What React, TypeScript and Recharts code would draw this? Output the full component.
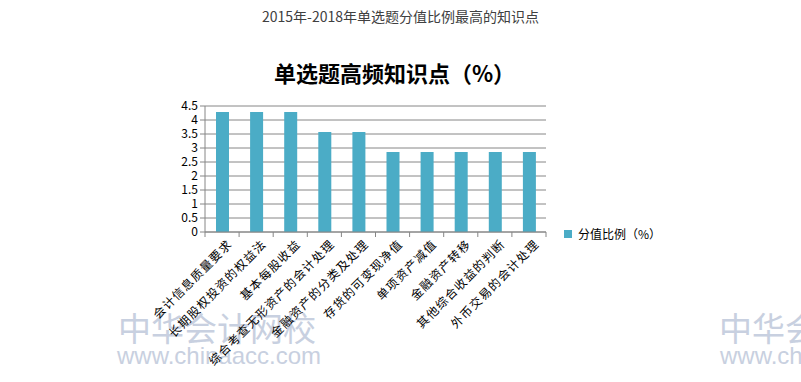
import { BarChart, Bar, XAxis, YAxis, CartesianGrid } from "recharts";

const categories = [
  "会计信息质量要求",
  "长期股权投资的权益法",
  "基本每股收益",
  "综合考查无形资产的会计处理",
  "金融资产的分类及处理",
  "存货的可变现净值",
  "单项资产减值",
  "金融资产转移",
  "其他综合收益的判断",
  "外币交易的会计处理",
];
const shares = [4.29, 4.29, 4.29, 3.57, 3.57, 2.86, 2.86, 2.86, 2.86, 2.86];
const yTicks = [0, 0.5, 1, 1.5, 2, 2.5, 3, 3.5, 4, 4.5];

const data = categories.map((name, i) => ({ name, value: shares[i] }));

const W = 801;
const H = 382;
const PLOT_LEFT = 205;
const PLOT_RIGHT = 546;
const STEP = (PLOT_RIGHT - PLOT_LEFT) / categories.length;
const FONT = '"Noto Sans CJK SC", "Noto Sans", sans-serif';
const GRID = "#868686";

const CategoryTick = ({ x, y, payload, index }: any) => (
  <g>
    <line x1={x - STEP / 2} y1={y - 8} x2={x - STEP / 2} y2={y - 3} stroke={GRID} />
    {index === categories.length - 1 && (
      <line x1={x + STEP / 2} y1={y - 8} x2={x + STEP / 2} y2={y - 3} stroke={GRID} />
    )}
    <text
      x={x + 11}
      y={y + 5}
      transform={`rotate(-45, ${x + 11}, ${y + 5})`}
      textAnchor="end"
      fontSize={12}
      letterSpacing={1.2}
      fontFamily={FONT}
      fill="#000"
    >
      {payload.value}
    </text>
  </g>
);

const mark = {
  position: "absolute" as const,
  fontFamily: "Arial, sans-serif",
  color: "#c8d0e0",
  whiteSpace: "nowrap" as const,
  lineHeight: 1,
};

export default function App() {
  return (
    <div style={{ position: "absolute", left: 0, top: 0, width: W, height: H, background: "#fff", overflow: "hidden" }}>
      <div style={{ ...mark, left: 118, top: 311, fontSize: 33, fontFamily: FONT }}>中华会计网校</div>
      <div style={{ ...mark, left: 117, top: 344, fontSize: 24 }}>www.chinaacc.com</div>
      <div style={{ ...mark, left: 719, top: 311, fontSize: 33, fontFamily: FONT }}>中华会计网校</div>
      <div style={{ ...mark, left: 720, top: 344, fontSize: 24 }}>www.chinaacc.com</div>
      <div
        style={{
          position: "absolute",
          left: 0,
          width: W,
          top: 6,
          textAlign: "center",
          fontFamily: FONT,
          fontSize: 14,
          color: "#404040",
        }}
      >
        2015年-2018年单选题分值比例最高的知识点
      </div>
      <div
        style={{
          position: "absolute",
          left: -6,
          width: W,
          top: 56,
          textAlign: "center",
          fontFamily: FONT,
          fontSize: 22,
          fontWeight: "bold",
          color: "#000",
        }}
      >
        单选题高频知识点（%）
      </div>
      <div style={{ position: "absolute", left: 0, top: 0 }}>
        <BarChart
          width={W}
          height={H}
          data={data}
          margin={{ top: 106, right: W - PLOT_RIGHT, bottom: 0, left: PLOT_LEFT - 40 }}
          barSize={13}
        >
          <CartesianGrid vertical={false} stroke={GRID} />
          <XAxis
            dataKey="name"
            interval={0}
            height={150}
            axisLine={{ stroke: GRID }}
            tickLine={false}
            tick={<CategoryTick />}
          />
          <YAxis
            width={40}
            domain={[0, 4.5]}
            ticks={yTicks}
            interval={0}
            axisLine={{ stroke: GRID }}
            tickLine={{ stroke: GRID }}
            tickSize={5}
            tick={{ fill: "#000", fontSize: 12, fontFamily: FONT }}
          />
          <Bar dataKey="value" fill="#4BACC6" isAnimationActive={false} />
        </BarChart>
      </div>
      <div
        style={{
          position: "absolute",
          left: 564,
          top: 225,
          display: "flex",
          alignItems: "center",
          fontFamily: FONT,
          fontSize: 12,
          color: "#000",
          whiteSpace: "nowrap",
        }}
      >
        <span style={{ width: 8, height: 8, background: "#4BACC6", marginRight: 6, display: "inline-block" }} />
        分值比例（%）
      </div>
    </div>
  );
}
